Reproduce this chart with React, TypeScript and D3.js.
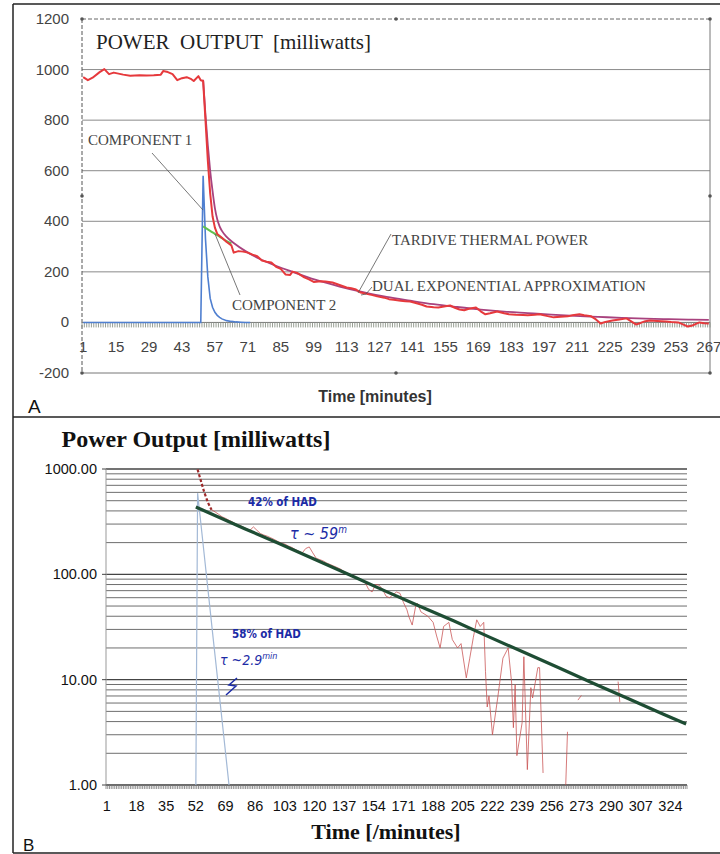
import React from 'react';
import * as d3 from 'd3';

type Pt = [number, number];
type Gap = [number, number | null];

// ---------- Panel A: linear power output ----------
const aYTicks = [1200, 1000, 800, 600, 400, 200, 0, -200];
const aXLabels = [1, 15, 29, 43, 57, 71, 85, 99, 113, 127, 141, 155, 169, 183, 197, 211, 225, 239, 253, 267];
const aMinutes = 267;

// measured tardive thermal power [mW] by minute
const aTardive: Pt[] = [
  [1, 970], [3, 958], [5, 968], [8, 990], [10, 1002], [12, 982], [14, 988], [15, 986], [18, 980], [21, 976],
  [25, 978], [28, 977], [31, 978], [34, 980], [35, 994], [37, 990], [39, 982], [41, 958], [43, 966], [45, 970],
  [47, 962], [48, 955], [50, 974], [51, 958], [52, 955], [53, 800], [54, 640], [55, 510], [56, 420], [57, 375],
  [58, 350], [60, 335], [62, 318], [64, 305], [65, 276], [67, 282], [69, 280], [71, 276], [73, 268], [75, 262],
  [77, 245], [79, 240], [81, 237], [83, 220], [85, 212], [87, 190], [89, 188], [90, 201], [92, 196], [95, 178],
  [97, 170], [99, 160], [102, 163], [104, 162], [107, 158], [110, 148], [113, 138], [115, 135], [117, 130], [119, 118],
  [122, 112], [124, 108], [126, 103], [129, 98], [131, 92], [133, 90], [136, 86], [138, 84], [140, 83], [142, 78],
  [145, 70], [147, 63], [150, 60], [152, 59], [155, 64], [157, 67], [159, 58], [161, 51], [163, 48], [165, 54],
  [168, 59], [170, 44], [172, 32], [174, 36], [177, 43], [180, 36], [182, 32], [185, 30], [188, 29], [190, 28],
  [193, 30], [195, 32], [198, 26], [201, 20], [204, 22], [207, 24], [209, 28], [212, 32], [214, 28], [217, 24],
  [219, 12], [221, -4], [223, 2], [226, 8], [229, 12], [232, 16], [234, 4], [236, -8], [238, -2], [240, 5],
  [242, 8], [245, 6], [249, 4], [251, 2], [254, 0], [256, -8], [258, -16], [260, -12], [262, -4], [263, 0],
  [265, -3], [267, -4],
];

// dual exponential approximation [mW]
const aDualExp: Pt[] = [
  [52, 960], [53, 820], [54, 700], [55, 600], [56, 520], [57, 452], [58, 408], [59, 380], [60, 362], [62, 338],
  [65, 314], [70, 282], [75, 256], [80, 235], [90, 200], [100, 168], [110, 142], [120, 120], [130, 101], [140, 86],
  [150, 72], [160, 61], [170, 51], [180, 43], [190, 37], [200, 31], [210, 26], [220, 22], [230, 18], [240, 15],
  [250, 13], [260, 11], [267, 10],
];

// fast component (component 1) [mW]
const aComponent1: Pt[] = [
  [1, 0], [51, 0], [52, 580], [53, 330], [54, 180], [55, 95], [56, 60], [57, 40], [58, 28], [59, 20],
  [60, 14], [62, 7], [64, 4], [66, 2], [68, 1], [70, 0], [72, 0],
];

// slow component (component 2) [mW], start of the curve
const aComponent2: Pt[] = [
  [52, 380], [54, 368], [56, 356], [58, 345], [60, 333], [62, 322], [64, 312],
];

// ---------- Panel B: logarithmic power output ----------
const bYTicks = [1000, 100, 10, 1];
const bXLabels = [1, 18, 35, 52, 69, 86, 103, 120, 137, 154, 171, 188, 205, 222, 239, 256, 273, 290, 307, 324];
const bMinutes = 333;

// fast component, tau ~ 2.9 min
const bComponent1: Pt[] = [
  [52, 0], [53, 590], [56, 204], [59, 70], [62, 24], [65, 8.4], [68, 2.9], [71, 1],
];

// initial fall of the measured power
const bInitialDrop: Pt[] = [
  [53, 990], [55, 760], [57, 590], [59, 480], [61, 410],
];

// slow component, tau ~ 59 min
const bSlowComponent: Pt[] = [
  [52, 436], [80, 271], [100, 195], [120, 139], [140, 99], [160, 70], [180, 50], [200, 36],
  [220, 25.5], [240, 18.2], [260, 13], [280, 9.2], [300, 6.6], [320, 4.7], [333, 3.8],
];

// measured power (gaps where the signal is at or below zero)
const bTardive: Gap[] = [
  [61, 410], [63, 392], [65, 372], [67, 352], [69, 340], [71, 326], [73, 315], [75, 300], [77, 292], [79, 282],
  [81, 272], [83, 262], [85, 282], [87, 262], [89, 244], [91, 236], [93, 230], [95, 222], [97, 214], [99, 205],
  [101, 198], [103, 194], [105, 186], [107, 180], [109, 172], [111, 166], [113, 160], [115, 176], [117, 182], [119, 160],
  [121, 142], [123, 138], [125, 134], [127, 128], [129, 124], [131, 120], [133, 116], [135, 112], [137, 106], [139, 102],
  [141, 98], [143, 95], [145, 90], [147, 87], [149, 84], [151, 72], [153, 68], [155, 80], [157, 79], [159, 72],
  [161, 62], [163, 60], [165, 64], [167, 68], [169, 66], [171, 54], [173, 46], [174, 40], [176, 33], [178, 50],
  [179, 53], [181, 44], [182, 43], [185, 40], [188, 35], [190, 26], [192, 20], [194, 32], [197, 35], [199, 24],
  [202, 20], [204, 22], [207, 10.4], [209, 16], [211, 25], [213, 37], [215, 32], [217, 35], [218, 12], [219, 5.5],
  [220, 7], [222, 3], [225, 6.7], [228, 16], [231, 20], [233, 9.3], [234, 3.5], [235, 9], [236, 1.9], [239, 3.9],
  [240, 16.5], [242, 1.4], [244, 8.4], [245, 6.7], [248, 13], [249, 13], [251, 1.3], [252, null],
  [264, 1], [265, 3.2], [266, null],
  [271, 6.4], [273, 7.1], [274, null],
  [294, 9.6], [295, 6.1],
];

const SERIF = "'Liberation Serif', 'Times New Roman', serif";
const SANS = "'Liberation Sans', Arial, sans-serif";
const HAND = "'DejaVu Sans Condensed', 'DejaVu Sans', sans-serif";
const INK = '#1b2ba6';

export default function App() {
  const aX = d3.scaleLinear().domain([0.5, aMinutes + 0.5]).range([82, 710]);
  const aY = d3.scaleLinear().domain([-200, 1200]).range([373, 19]);
  const bX = d3.scaleLinear().domain([0.5, bMinutes + 0.5]).range([106, 687]);
  const bY = d3.scaleLog().domain([1, 1000]).range([785, 469]).clamp(true);

  const aLine = d3.line<Pt>().x(d => aX(d[0])).y(d => aY(d[1]));
  const aSmooth = d3.line<Pt>().x(d => aX(d[0])).y(d => aY(d[1])).curve(d3.curveMonotoneX);
  const bLine = d3.line<Pt>().x(d => bX(d[0])).y(d => bY(d[1]));
  const bSmooth = d3.line<Pt>().x(d => bX(d[0])).y(d => bY(d[1])).curve(d3.curveMonotoneX);
  const bGapLine = d3.line<Gap>()
    .defined(d => d[1] !== null)
    .x(d => bX(d[0]))
    .y(d => bY(d[1] as number));

  const [aLeft, aRight] = aX.range();
  const [aBottom, aTop] = aY.range();
  const aMid = (aLeft + aRight) / 2;
  const aMidY = (aTop + aBottom) / 2;
  const aZero = aY(0);

  const [bLeft, bRight] = bX.range();
  const [bBottom, bTop] = bY.range();
  const bGrid = bY.ticks();

  const handles: Pt[] = [
    [aLeft, aTop], [aMid, aTop], [aRight, aTop], [aRight, aMidY],
    [aRight, aBottom], [aMid, aBottom], [aLeft, aBottom], [aLeft, aMidY],
  ];

  return (
    <>
      <style>{'body{margin:0;background:#fff}'}</style>
      <svg width={720} height={854} viewBox="0 0 720 854" style={{ display: 'block' }}>
        <rect x={0} y={0} width={720} height={854} fill="#fff" />

        {/* outer frames */}
        <line x1={13} x2={720} y1={4} y2={4} stroke="#222" strokeWidth={1.5} />
        <line x1={13} x2={13} y1={4} y2={853} stroke="#222" strokeWidth={1.5} />
        <line x1={13} x2={720} y1={417} y2={417} stroke="#222" strokeWidth={1.5} />
        <line x1={13} x2={720} y1={853} y2={853} stroke="#222" strokeWidth={1.5} />

        {/* ===== Panel A ===== */}
        {aYTicks.filter(v => v !== 1200 && v !== -200 && v !== 0).map(v => (
          <line key={'ag' + v} x1={aLeft} x2={aRight} y1={aY(v)} y2={aY(v)} stroke="#8a8a8a" strokeWidth={1} />
        ))}
        <line x1={aLeft} x2={aRight} y1={aTop} y2={aTop} stroke="#666" strokeWidth={1} strokeDasharray="4 2" />
        <line x1={aLeft} x2={aLeft} y1={aTop} y2={aBottom} stroke="#555" strokeWidth={1} strokeDasharray="4 2" />
        <line x1={aRight} x2={aRight} y1={aTop} y2={aBottom} stroke="#777" strokeWidth={1} />
        <line x1={aLeft} x2={aRight} y1={aBottom} y2={aBottom} stroke="#777" strokeWidth={1} />
        {handles.map((h, i) => (
          <circle key={'h' + i} cx={h[0]} cy={h[1]} r={1.8} fill="#555" />
        ))}

        {/* zero axis with a tick per minute */}
        <line x1={aLeft} x2={aRight} y1={aZero} y2={aZero} stroke="#777" strokeWidth={1} />
        {d3.range(0, aMinutes + 1).map(i => (
          <line key={'at' + i} x1={aX(i + 0.5)} x2={aX(i + 0.5)} y1={aZero} y2={aZero + 5} stroke="#8c9488" strokeWidth={0.9} />
        ))}

        {aYTicks.map(v => (
          <text key={'ay' + v} x={69} y={aY(v) + 5} textAnchor="end" fontFamily={SANS} fontSize={15} fill="#444">{v}</text>
        ))}
        {aXLabels.map(v => (
          <text key={'ax' + v} x={aX(v)} y={352} textAnchor="middle" fontFamily={SANS} fontSize={15} fill="#444">{v}</text>
        ))}

        {/* series */}
        <path d={aLine(aComponent1) || ''} fill="none" stroke="#4f7fd0" strokeWidth={1.6} />
        <path d={aSmooth(aComponent2) || ''} fill="none" stroke="#5fc04e" strokeWidth={2} />
        <path d={aSmooth(aDualExp) || ''} fill="none" stroke="#a8427e" strokeWidth={1.8} />
        <path d={aLine(aTardive) || ''} fill="none" stroke="#e6393c" strokeWidth={2} strokeLinejoin="round" />

        {/* annotations */}
        <text x={96} y={49} fontFamily={SERIF} fontSize={21} fill="#222" style={{ whiteSpace: 'pre' }}>{'POWER  OUTPUT  [milliwatts]'}</text>
        <text x={88} y={145} fontFamily={SERIF} fontSize={15} fill="#444">COMPONENT 1</text>
        <line x1={152} y1={153} x2={203} y2={210} stroke="#555" strokeWidth={0.8} />
        <text x={232} y={310} fontFamily={SERIF} fontSize={15} fill="#444">COMPONENT 2</text>
        <line x1={240} y1={295} x2={215} y2={234} stroke="#555" strokeWidth={0.8} />
        <text x={392} y={245} fontFamily={SERIF} fontSize={15} fill="#444">TARDIVE THERMAL POWER</text>
        <line x1={391} y1={234} x2={358} y2={293} stroke="#555" strokeWidth={0.8} />
        <text x={372} y={291} fontFamily={SERIF} fontSize={15} fill="#444">DUAL EXPONENTIAL APPROXIMATION</text>
        <polyline points="372,287 366,294 361,295" fill="none" stroke="#555" strokeWidth={0.8} />

        <text x={375} y={402} textAnchor="middle" fontFamily={SANS} fontSize={16} fontWeight="bold" fill="#333">Time [minutes]</text>
        <text x={28} y={413} fontFamily={SANS} fontSize={19} fill="#111">A</text>

        {/* ===== Panel B ===== */}
        <text x={196} y={447} textAnchor="middle" fontFamily={SERIF} fontSize={24} fontWeight="bold" fill="#111">Power Output [milliwatts]</text>

        {bGrid.map(v => {
          const major = bYTicks.includes(v);
          return (
            <line key={'bg' + v} x1={bLeft} x2={bRight} y1={bY(v)} y2={bY(v)}
              stroke={major ? '#444' : '#6e6e6e'} strokeWidth={major ? 1.4 : 1} />
          );
        })}
        <line x1={bLeft} x2={bLeft} y1={bTop} y2={bBottom} stroke="#999" strokeWidth={1} />
        {bYTicks.map(v => (
          <line key={'bt' + v} x1={bLeft - 4} x2={bLeft} y1={bY(v)} y2={bY(v)} stroke="#444" strokeWidth={1} />
        ))}
        {bYTicks.map(v => (
          <text key={'by' + v} x={97} y={bY(v) + 5} textAnchor="end" fontFamily={SANS} fontSize={14.5} fill="#111">{v.toFixed(2)}</text>
        ))}

        <line x1={bLeft} x2={bRight} y1={bBottom} y2={bBottom} stroke="#666" strokeWidth={1} />
        {d3.range(0, bMinutes + 1).map(i => (
          <line key={'bx' + i} x1={bX(i + 0.5)} x2={bX(i + 0.5)} y1={bBottom} y2={bBottom + 4} stroke="#777" strokeWidth={0.8} />
        ))}
        {bXLabels.map(v => (
          <text key={'bl' + v} x={bX(v)} y={811} textAnchor="middle" fontFamily={SANS} fontSize={14.5} fill="#111">{v}</text>
        ))}

        {/* series */}
        <path d={bLine(bComponent1) || ''} fill="none" stroke="#a3b9d6" strokeWidth={1.2} />
        <path d={bGapLine(bTardive) || ''} fill="none" stroke="#c85050" strokeWidth={0.9} opacity={0.85} />
        <path d={bSmooth(bInitialDrop) || ''} fill="none" stroke="#9e2a2a" strokeWidth={2.2} strokeDasharray="3 2" />
        <path d={bLine(bSlowComponent) || ''} fill="none" stroke="#1e4d34" strokeWidth={3.2} />

        {/* handwritten notes */}
        <text x={248} y={506} fontFamily={HAND} fontWeight="bold" fontSize={11.5} fill={INK}>42% of HAD</text>
        <text x={290} y={539} fontFamily={HAND} fontStyle="italic" fontSize={16} fill={INK}>
          τ ~ 59<tspan dy={-6} fontSize={10}>m</tspan>
        </text>
        <text x={232} y={638} fontFamily={HAND} fontWeight="bold" fontSize={11.5} fill={INK}>58% of HAD</text>
        <text x={220} y={665} fontFamily={HAND} fontStyle="italic" fontSize={14} fill={INK}>
          τ ~2.9<tspan dy={-6} fontSize={9}>min</tspan>
        </text>
        <path d="M237,678 L229,685 L236,686 L226,695" fill="none" stroke={INK} strokeWidth={1.5} />

        <text x={386} y={839} textAnchor="middle" fontFamily={SERIF} fontSize={22} fontWeight="bold" fill="#111">Time [/minutes]</text>
        <text x={23} y={851} fontFamily={SANS} fontSize={17} fill="#111">B</text>
      </svg>
    </>
  );
}
